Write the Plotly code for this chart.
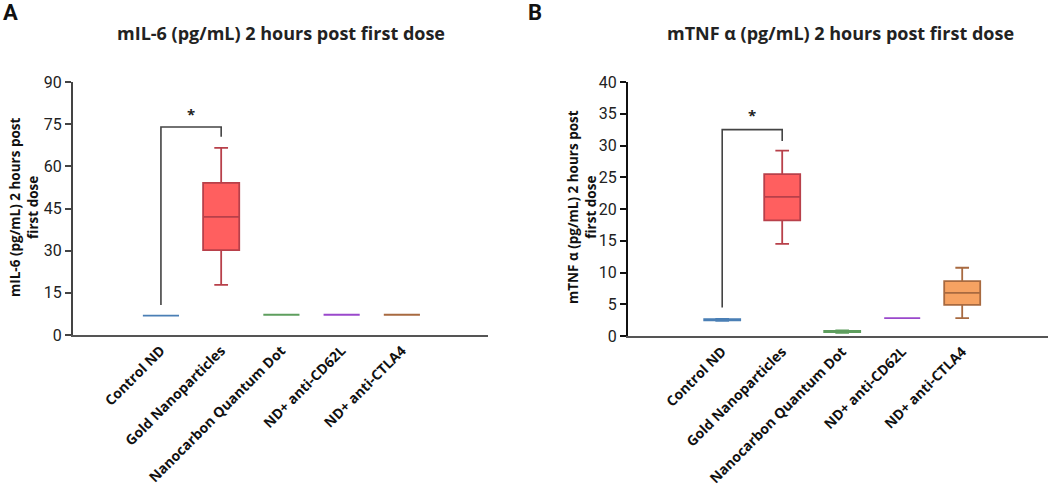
import plotly.graph_objects as go

groups = ["Control ND", "Gold Nanoparticles", "Nanocarbon Quantum Dot",
          "ND+ anti-CD62L", "ND+ anti-CTLA4"]

# panel A: mIL-6, five-number summaries per group
il6_low = [6.9, 17.8, 7.2, 7.2, 7.2]
il6_q1 = [6.9, 30.2, 7.2, 7.2, 7.2]
il6_med = [6.9, 42.0, 7.2, 7.2, 7.2]
il6_q3 = [6.9, 54.1, 7.2, 7.2, 7.2]
il6_high = [6.9, 66.6, 7.2, 7.2, 7.2]

# panel B: mTNF a
tnf_low = [2.4, 14.5, 0.5, 2.8, 2.8]
tnf_q1 = [2.45, 18.2, 0.6, 2.8, 4.9]
tnf_med = [2.55, 21.9, 0.7, 2.8, 6.8]
tnf_q3 = [2.65, 25.5, 0.8, 2.8, 8.65]
tnf_high = [2.7, 29.2, 0.9, 2.8, 10.75]

# significance bracket (left foot, top, right foot) and star height
il6_bracket = [10.7, 74.0, 74.0, 70.5]
il6_star = 78.5
tnf_bracket = [4.5, 32.5, 32.5, 30.7]
tnf_star = 34.8

fills = ["#4a7fb5", "#ff5f5f", "#5e9e5e", "#9a48cc", "#f6a262"]
lines = ["#4a7fb5", "#b8404a", "#5e9e5e", "#9a48cc", "#a86a40"]

W, H = 1052, 492

fig = go.Figure()


def add_panel(low, q1, med, q3, high, xa, ya):
    for i, g in enumerate(groups):
        fig.add_trace(go.Box(
            x=[g], q1=[q1[i]], median=[med[i]], q3=[q3[i]],
            lowerfence=[low[i]], upperfence=[high[i]],
            fillcolor=fills[i], line=dict(color=lines[i], width=1.8),
            width=0.6, whiskerwidth=0.38, boxpoints=False,
            showlegend=False, hoverinfo="skip", xaxis=xa, yaxis=ya))


def add_bracket(b, star, xa, ya):
    fig.add_trace(go.Scatter(
        x=[groups[0], groups[0], groups[1], groups[1]], y=b,
        mode="lines", line=dict(color="#444444", width=1.6),
        showlegend=False, hoverinfo="skip", xaxis=xa, yaxis=ya))
    fig.add_annotation(x=0.5, y=star, xref=xa, yref=ya, text="<b>*</b>",
                       showarrow=False, font=dict(size=15, color="#222"))


add_panel(il6_low, il6_q1, il6_med, il6_q3, il6_high, "x", "y")
add_panel(tnf_low, tnf_q1, tnf_med, tnf_q3, tnf_high, "x2", "y2")
add_bracket(il6_bracket, il6_star, "x", "y")
add_bracket(tnf_bracket, tnf_star, "x2", "y2")

xcommon = dict(type="category", categoryorder="array", categoryarray=groups,
               showline=True, linecolor="#555555", linewidth=2,
               ticks="", tickangle=-45, showgrid=False, zeroline=False,
               automargin=False,
               tickfont=dict(family="Open Sans", size=14, color="#111",
                             weight="bold"))
ycommon = dict(showline=True, linewidth=2, ticks="outside", ticklen=6,
               tickwidth=1.5, showgrid=False, zeroline=False,
               automargin=False,
               tickfont=dict(family="Roboto", size=16, color="#222"))

fig.update_layout(
    width=W, height=H, margin=dict(l=0, r=0, t=0, b=0),
    plot_bgcolor="white", paper_bgcolor="white",
    xaxis=dict(xcommon, domain=[73 / W, 488 / W], range=[-1.46, 5.43],
               anchor="y"),
    yaxis=dict(ycommon, domain=[(H - 335) / H, (H - 82) / H], range=[0, 90],
               tickvals=[0, 15, 30, 45, 60, 75, 90], linecolor="#444444",
               tickcolor="#444444", anchor="x"),
    xaxis2=dict(xcommon, domain=[628 / W, 1048 / W], range=[-1.57, 5.43],
                anchor="y2"),
    yaxis2=dict(ycommon, domain=[(H - 336) / H, (H - 82) / H], range=[0, 40],
                tickvals=[0, 5, 10, 15, 20, 25, 30, 35, 40],
                linecolor="#111111", tickcolor="#111111", anchor="x2"),
)

tfont = dict(family="Open Sans", size=18, color="#222", weight="bold")
afont = dict(family="Open Sans", size=13.5, color="#111", weight="bold")
mid = dict(xref="paper", yref="paper", showarrow=False,
           xanchor="center", yanchor="middle")
fig.add_annotation(x=281 / W, y=1 - 33 / H, font=tfont,
                   text="mIL-6 (pg/mL) 2 hours post first dose", **mid)
fig.add_annotation(x=840 / W, y=1 - 33 / H, font=tfont,
                   text="mTNF α (pg/mL) 2 hours post first dose", **mid)
fig.add_annotation(x=24 / W, y=1 - 208 / H, font=afont, textangle=-90,
                   text="mIL-6 (pg/mL) 2 hours post<br>first dose", **mid)
fig.add_annotation(x=582 / W, y=1 - 207 / H, font=afont, textangle=-90,
                   text="mTNF α (pg/mL) 2 hours post<br>first dose", **mid)
pfont = dict(family="Roboto", size=22, color="#111", weight="bold")
fig.add_annotation(x=10 / W, y=1 - 12 / H, text="A", font=pfont, **mid)
fig.add_annotation(x=535 / W, y=1 - 12 / H, text="B", font=pfont, **mid)

fig.write_html("out.html", config={"displayModeBar": False},
               post_script="document.body.style.margin='0';")
